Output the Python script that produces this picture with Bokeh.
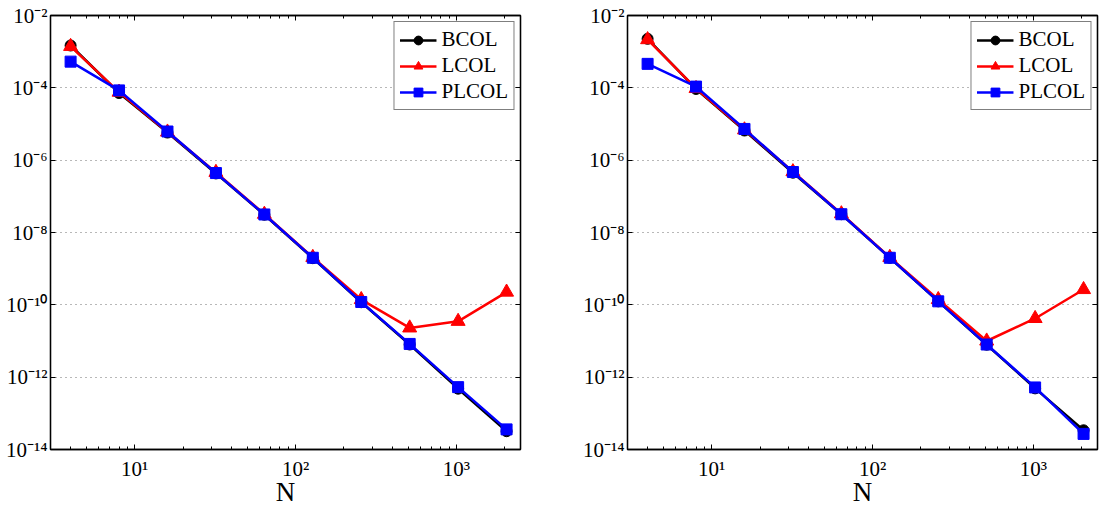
from bokeh.plotting import figure
from bokeh.layouts import row
from bokeh.models import (FixedTicker, CustomJSTickFormatter, LogAxis, Legend,
                          LegendItem, Range1d)
from bokeh.embed import file_html
from bokeh.resources import INLINE

# ---------------- data ----------------
N = [4, 8, 16, 32, 64, 128, 256, 512, 1024, 2048]

bcol_left = [1.48e-3, 7.2e-5, 5.8e-6, 4.3e-7, 3.1e-8, 1.95e-9, 1.18e-10, 8.0e-12, 4.8e-13, 3.2e-14]
lcol_left = [1.40e-3, 7.6e-5, 6.0e-6, 4.6e-7, 3.2e-8, 2.05e-9, 1.40e-10, 2.3e-11, 3.5e-11, 2.25e-10]
plcol_left = [5.3e-4, 8.5e-5, 6.2e-6, 4.4e-7, 3.15e-8, 2.0e-9, 1.20e-10, 8.3e-12, 5.3e-13, 3.6e-14]

bcol_right = [2.27e-3, 9.3e-5, 6.6e-6, 4.5e-7, 3.2e-8, 2.0e-9, 1.25e-10, 7.9e-12, 4.9e-13, 3.4e-14]
lcol_right = [2.15e-3, 9.6e-5, 6.9e-6, 4.8e-7, 3.3e-8, 2.05e-9, 1.40e-10, 1.0e-11, 4.2e-11, 2.65e-10]
plcol_right = [4.6e-4, 1.08e-4, 7.3e-6, 4.7e-7, 3.2e-8, 2.0e-9, 1.25e-10, 8.0e-12, 5.2e-13, 2.7e-14]

series_names = ["BCOL", "LCOL", "PLCOL"]

x_ticks = [10, 100, 1000]
x_tick_labels = ["10\u00b9", "10\u00b2", "10\u00b3"]
x_minor_ticks = [3, 4, 5, 6, 7, 8, 9, 20, 30, 40, 50, 60, 70, 80, 90,
                 200, 300, 400, 500, 600, 700, 800, 900, 2000]
y_ticks = [1e-14, 1e-12, 1e-10, 1e-8, 1e-6, 1e-4, 1e-2]
y_tick_labels = ["10\u207b\u00b9\u2074", "10\u207b\u00b9\u00b2", "10\u207b\u00b9\u2070",
                 "10\u207b\u2078", "10\u207b\u2076", "10\u207b\u2074", "10\u207b\u00b2"]
x_label = "N"

FONT = "Liberation Serif"

JS = """
const lt = Math.log10(tick);
for (let i = 0; i < tvals.length; i++) {
  if (Math.abs(Math.log10(tvals[i]) - lt) < 1e-6) return tlabels[i];
}
return '';
"""


def make_panel(bc, lc, pc, border_left, border_right, width):
    p = figure(width=width, height=509, x_axis_type="log", y_axis_type="log",
               x_range=Range1d(3, 2500), y_range=Range1d(1e-14, 1e-2),
               output_backend="svg", toolbar_location=None,
               min_border_left=border_left, min_border_right=border_right,
               min_border_top=15, min_border_bottom=60)
    p.outline_line_color = "black"
    p.outline_line_width = 1.3
    p.background_fill_color = "white"
    p.border_fill_color = "white"

    xt = FixedTicker(ticks=x_ticks, minor_ticks=x_minor_ticks)
    yt = FixedTicker(ticks=y_ticks, minor_ticks=[])

    for ax, tk, tl in ((p.xaxis[0], xt, x_tick_labels), (p.yaxis[0], yt, y_tick_labels)):
        ax.ticker = tk
        ax.formatter = CustomJSTickFormatter(args=dict(tvals=list(tk.ticks), tlabels=tl), code=JS)
        ax.major_label_text_font = FONT
        ax.major_label_text_font_size = "21px"
        ax.major_label_text_color = "black"
        ax.axis_line_color = "black"
        ax.axis_line_width = 1.3
        ax.major_tick_in = 5
        ax.major_tick_out = 0
        ax.minor_tick_in = 3
        ax.minor_tick_out = 0
        ax.major_tick_line_color = "black"
        ax.minor_tick_line_color = "black"
    p.xaxis[0].major_label_standoff = 7
    p.yaxis[0].major_label_standoff = 3
    p.xaxis[0].axis_label = x_label
    p.xaxis[0].axis_label_text_font = FONT
    p.xaxis[0].axis_label_text_font_size = "27px"
    p.xaxis[0].axis_label_text_font_style = "normal"
    p.xaxis[0].axis_label_text_color = "black"
    p.xaxis[0].axis_label_standoff = -7

    # mirrored axes (top / right) with inward ticks, no labels
    for side, tk in (("above", xt), ("right", yt)):
        ax = LogAxis(ticker=tk, formatter=CustomJSTickFormatter(code="return '';"),
                     major_label_text_font_size="0px", major_label_standoff=0,
                     axis_line_color="black", axis_line_width=1.3,
                     major_tick_in=5, major_tick_out=0,
                     minor_tick_in=3, minor_tick_out=0)
        p.add_layout(ax, side)

    p.xgrid.visible = False
    p.ygrid.ticker = yt
    p.ygrid.grid_line_color = "#707070"
    p.ygrid.grid_line_dash = "1 4"
    p.ygrid.grid_line_width = 1

    items = []
    specs = [(bc, "black", "circle", 11), (lc, "red", "triangle", 14), (pc, "blue", "square", 11)]
    for name, (vals, col, mk, sz) in zip(series_names, specs):
        l = p.line(N, vals, line_color=col, line_width=2.5)
        s = p.scatter(N, vals, marker=mk, size=sz, fill_color=col, line_color=col)
        items.append(LegendItem(label=name, renderers=[l, s]))

    leg = Legend(items=items, location="top_right", margin=6,
                 label_text_font=FONT, label_text_font_size="21px",
                 label_text_color="black",
                 glyph_width=37, glyph_height=22, label_height=22,
                 label_standoff=5, spacing=1, padding=5,
                 border_line_color="black", border_line_width=1.3,
                 background_fill_color="white", background_fill_alpha=1)
    p.add_layout(leg, "center")
    return p


p1 = make_panel(bcol_left, lcol_left, plcol_left, 50, 30, 550)
p2 = make_panel(bcol_right, lcol_right, plcol_right, 77, 4, 551)
layout = row(p1, p2)

open("out.html", "w").write(file_html(layout, INLINE))
